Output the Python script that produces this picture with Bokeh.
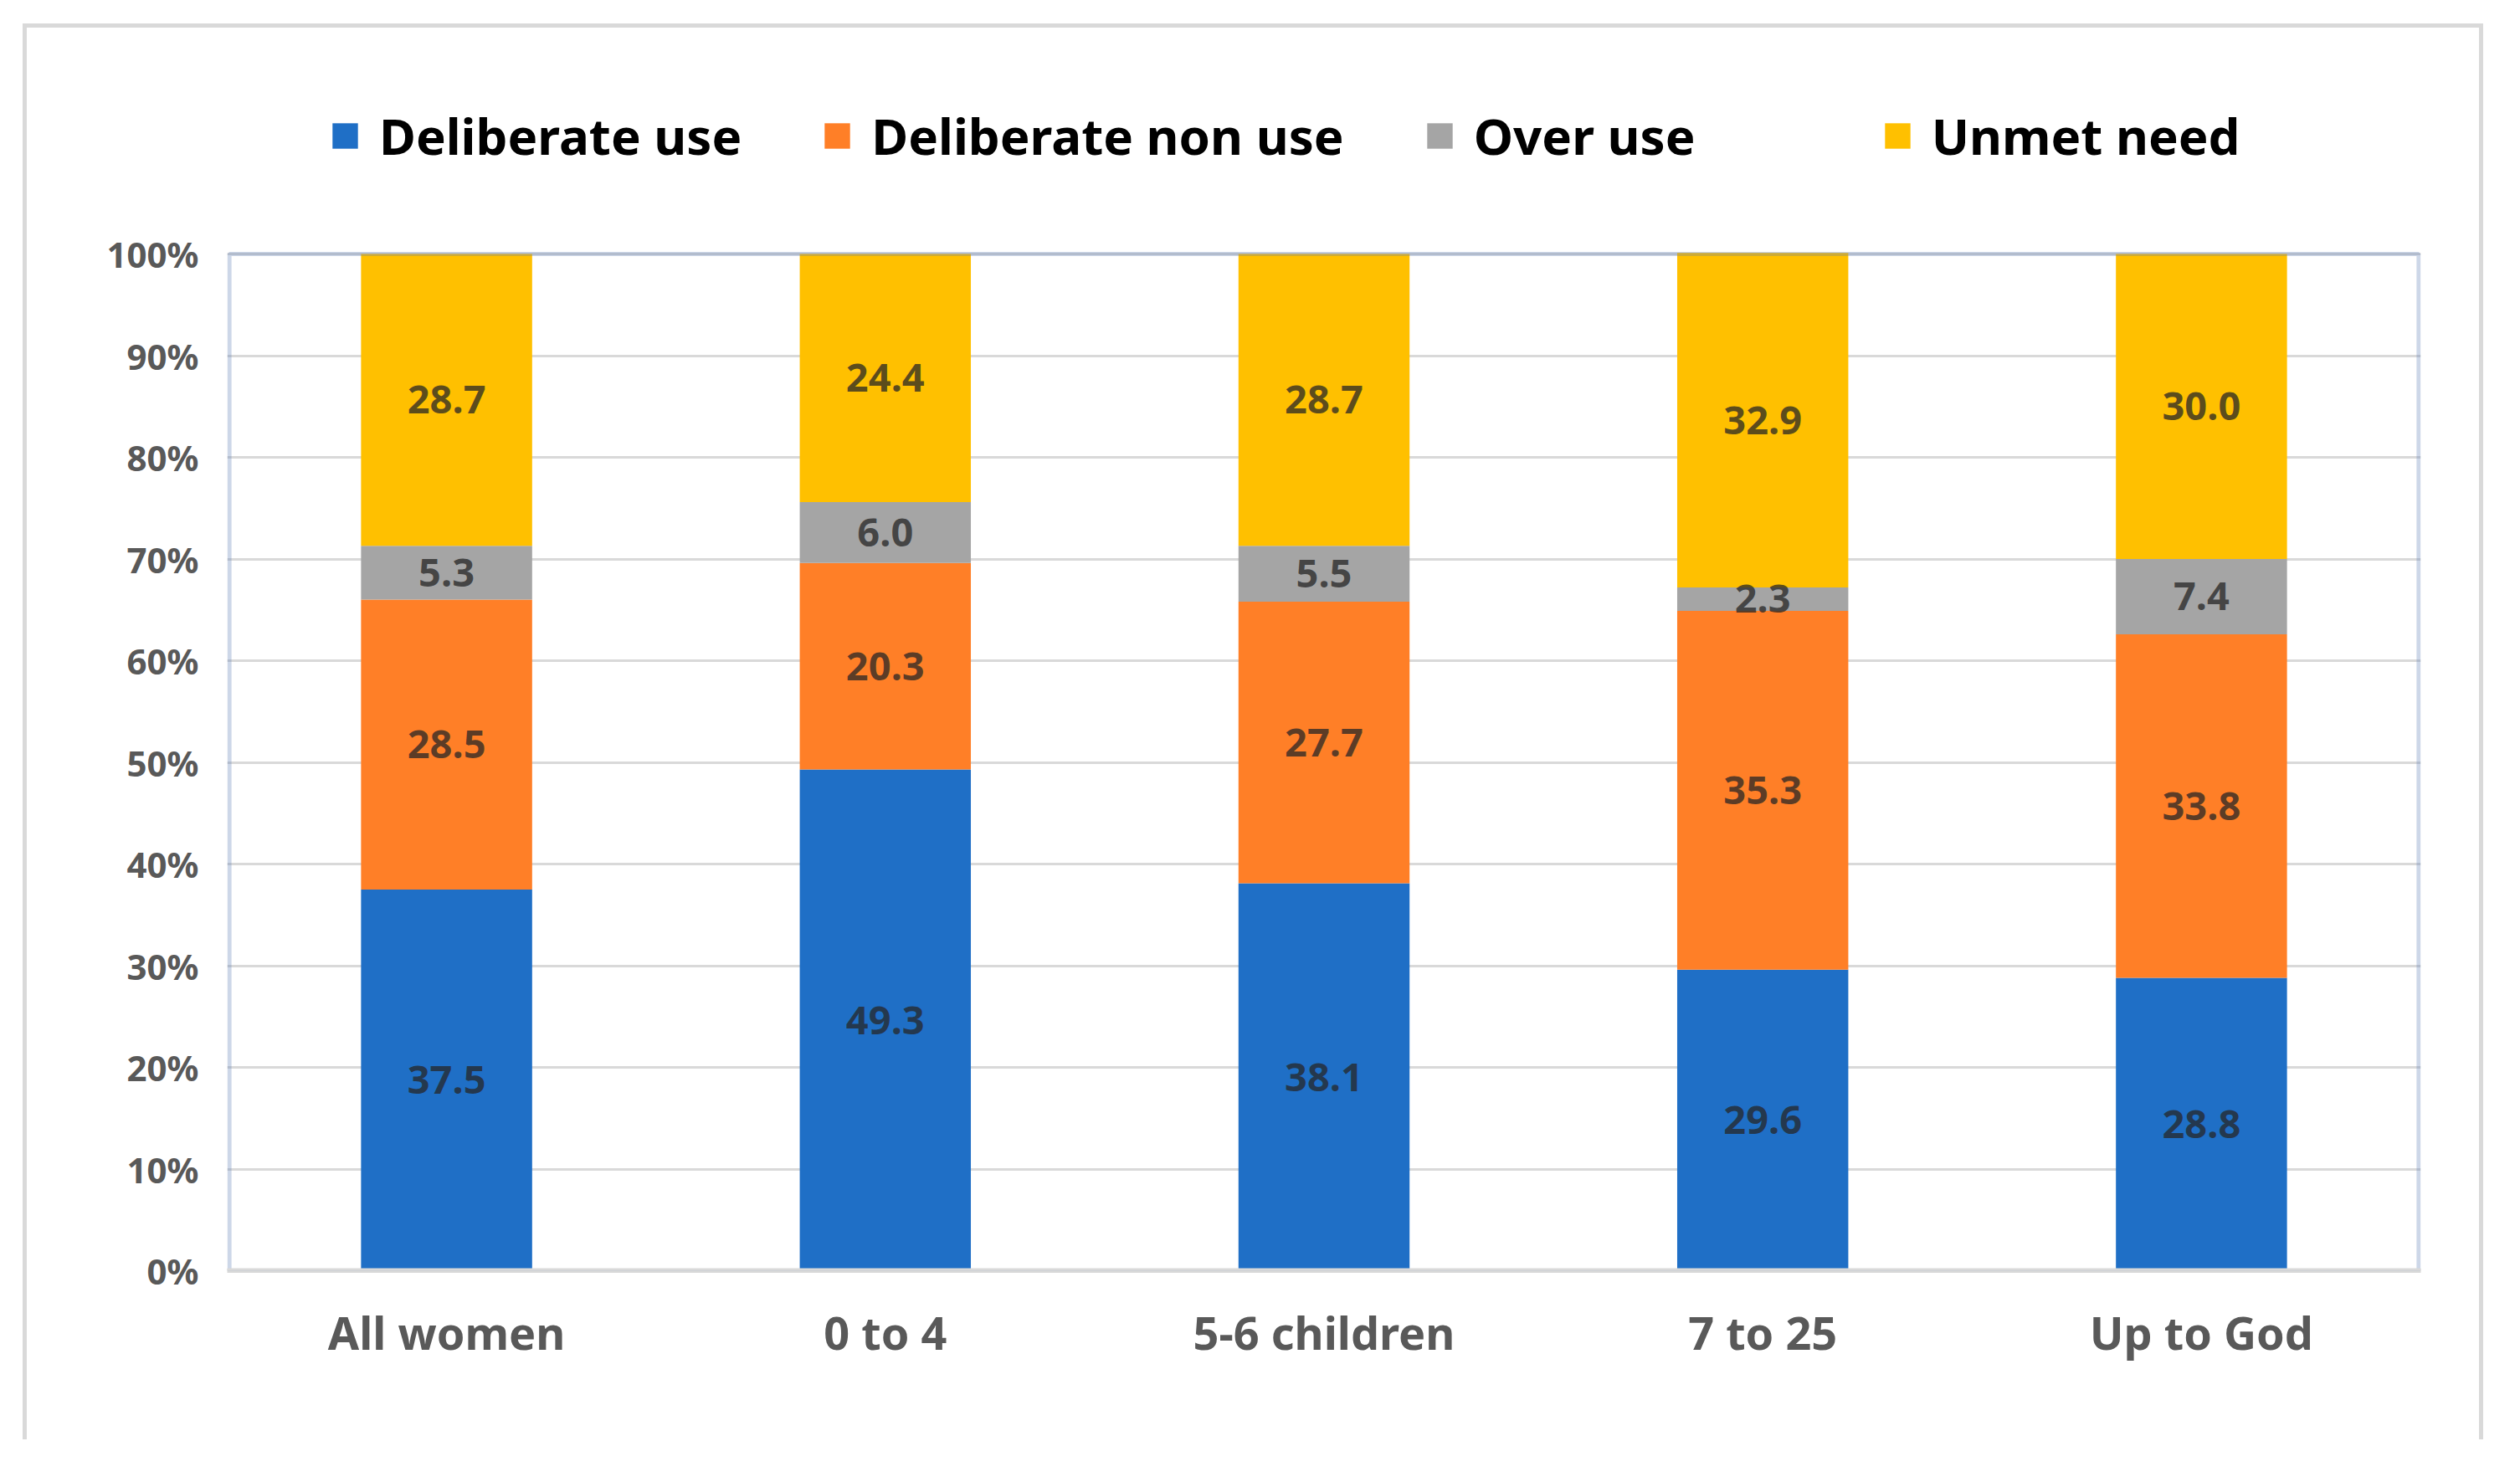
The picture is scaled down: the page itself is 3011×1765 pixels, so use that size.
from bokeh.plotting import figure
from bokeh.models import (FactorRange, Range1d, FixedTicker, Legend, LegendItem,
                          ColumnDataSource, BoxAnnotation, Span)
from bokeh.core.properties import value
from bokeh.embed import file_html
from bokeh.resources import INLINE

# ---------------- data ----------------
categories = ["All women", "0 to 4", "5-6 children", "7 to 25", "Up to God"]
series_names = ["Deliberate use", "Deliberate non use", "Over use", "Unmet need"]
deliberate_use = [37.5, 49.3, 38.1, 29.6, 28.8]
deliberate_non_use = [28.5, 20.3, 27.7, 35.3, 33.8]
over_use = [5.3, 6.0, 5.5, 2.3, 7.4]
unmet_need = [28.7, 24.4, 28.7, 32.9, 30.0]
y_ticks = [0, 10, 20, 30, 40, 50, 60, 70, 80, 90, 100]
y_tick_labels = ["0%", "10%", "20%", "30%", "40%", "50%", "60%", "70%", "80%", "90%", "100%"]

# ---------------- style / layout ----------------
colors = ["#1F6FC6", "#FF7F27", "#A5A5A5", "#FFC000"]
FONT = "Noto Sans"
W, H = 2940, 1692
FRAME_TOP = 69        # canvas px: top of the drawing frame (legend lives in it)
Y100 = 270            # canvas px of the 100% line
Y0 = 1485             # canvas px of the 0% line
y_max = 100 + (Y100 - FRAME_TOP) * 100.0 / (Y0 - Y100)
EDGE = 0.005          # small inset so the plot-area border is not clipped

keys = ["s0", "s1", "s2", "s3"]
series = [deliberate_use, deliberate_non_use, over_use, unmet_need]

data = {"cat": categories}
for k, s in zip(keys, series):
    data[k] = s
source = ColumnDataSource(data)

p = figure(
    x_range=FactorRange(*categories, range_padding=0),
    y_range=Range1d(0, y_max),
    width=W, height=H,
    output_backend="svg", toolbar_location=None,
    min_border_left=239, min_border_right=80,
    min_border_top=FRAME_TOP, min_border_bottom=H - Y0,
)
p.margin = (28, 0, 0, 27)
p.styles = {"border-top": "5px solid #d9d9d9",
            "border-left": "5px solid #d9d9d9",
            "border-right": "5px solid #d9d9d9"}
p.background_fill_color = "white"
p.border_fill_color = "white"
p.outline_line_color = None

renderers = p.vbar_stack(keys, x="cat", width=0.39, color=colors, line_color=None,
                         source=source)

# data labels at the middle of each segment
bottoms = [0.0] * len(categories)
for s in series:
    mids = [b + v / 2.0 for b, v in zip(bottoms, s)]
    lab_src = ColumnDataSource(dict(x=categories, y=mids, t=["%.1f" % v for v in s]))
    p.text(x="x", y="y", text="t", source=lab_src, text_align="center",
           text_baseline="middle", text_font=value(FONT), text_font_size="47px",
           text_font_style="bold", text_color="#262626", text_alpha=0.75)
    bottoms = [b + v for b, v in zip(bottoms, s)]

# plot-area border (0%..100%, full category span) and grey base line
p.add_layout(BoxAnnotation(bottom=0, top=100, left=EDGE, right=len(categories) - EDGE,
                           fill_alpha=0, line_color="#5A7BB3", line_width=5))
p.add_layout(Span(location=0, dimension="width", line_color="#d9d9d9", line_width=6))

# axes / grid
p.yaxis.ticker = FixedTicker(ticks=y_ticks)
p.yaxis.major_label_overrides = {t: l for t, l in zip(y_ticks, y_tick_labels)}
p.yaxis.axis_line_color = None
p.yaxis.major_tick_line_color = None
p.yaxis.minor_tick_line_color = None
p.yaxis.major_label_text_font = FONT
p.yaxis.major_label_text_font_size = "42px"
p.yaxis.major_label_text_font_style = "bold"
p.yaxis.major_label_text_color = "#595959"
p.yaxis.major_label_standoff = 28

p.xaxis.axis_line_color = "#d9d9d9"
p.xaxis.axis_line_width = 5
p.xaxis.major_tick_line_color = None
p.xaxis.minor_tick_line_color = None
p.xaxis.major_label_text_font = FONT
p.xaxis.major_label_text_font_size = "54px"
p.xaxis.major_label_text_font_style = "bold"
p.xaxis.major_label_text_color = "#595959"
p.xaxis.major_label_standoff = 30

p.xgrid.grid_line_color = None
p.ygrid.grid_line_color = "#d9d9d9"
p.ygrid.grid_line_width = 3

# legend at the top of the frame, above the 100% line
legend = Legend(
    items=[LegendItem(label=n, renderers=[r]) for n, r in zip(series_names, renderers)],
    location=(122, Y0 - 124 - 46), orientation="horizontal",
    padding=0, margin=0, spacing=95, label_width=392,
    glyph_width=38, glyph_height=38, label_standoff=22,
    label_text_font=FONT, label_text_font_size="60px",
    label_text_font_style="bold", label_text_color="black",
    border_line_color=None, background_fill_alpha=0,
)
p.add_layout(legend, "center")

open("out.html", "w").write(file_html(p, INLINE))
